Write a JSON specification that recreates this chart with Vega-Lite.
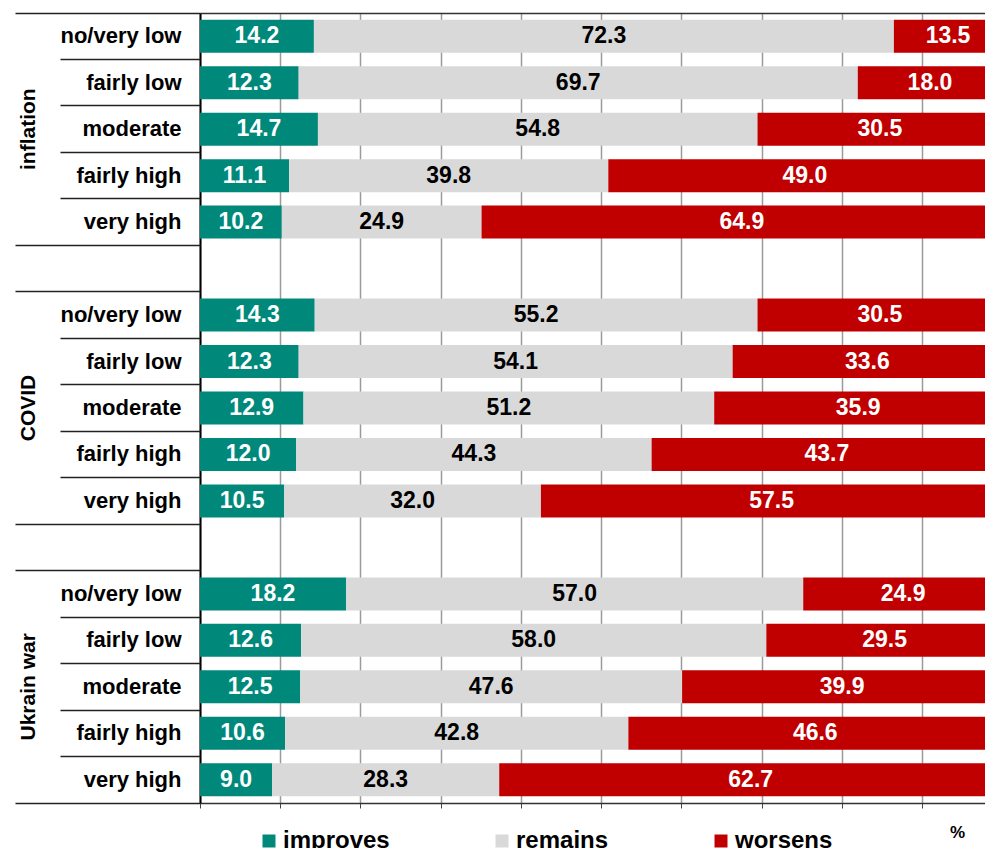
{
  "$schema": "https://vega.github.io/schema/vega-lite/v6.json",
  "width": 785,
  "height": 790,
  "padding": {"left": 200, "top": 13, "right": 0, "bottom": 45},
  "autosize": {"type": "none"},
  "config": {
    "view": {"stroke": null},
    "font": "Liberation Sans",
    "axis": {"labelFont": "Liberation Sans", "titleFont": "Liberation Sans"},
    "legend": {"labelFont": "Liberation Sans"}
  },
  "data": {
    "values": [
      {"row": "inflation|no/very low", "cat": "improves", "ord": 1, "value": 14.2},
      {"row": "inflation|no/very low", "cat": "remains", "ord": 2, "value": 72.3},
      {"row": "inflation|no/very low", "cat": "worsens", "ord": 3, "value": 13.5},
      {"row": "inflation|fairly low", "cat": "improves", "ord": 1, "value": 12.3},
      {"row": "inflation|fairly low", "cat": "remains", "ord": 2, "value": 69.7},
      {"row": "inflation|fairly low", "cat": "worsens", "ord": 3, "value": 18.0},
      {"row": "inflation|moderate", "cat": "improves", "ord": 1, "value": 14.7},
      {"row": "inflation|moderate", "cat": "remains", "ord": 2, "value": 54.8},
      {"row": "inflation|moderate", "cat": "worsens", "ord": 3, "value": 30.5},
      {"row": "inflation|fairly high", "cat": "improves", "ord": 1, "value": 11.1},
      {"row": "inflation|fairly high", "cat": "remains", "ord": 2, "value": 39.8},
      {"row": "inflation|fairly high", "cat": "worsens", "ord": 3, "value": 49.0},
      {"row": "inflation|very high", "cat": "improves", "ord": 1, "value": 10.2},
      {"row": "inflation|very high", "cat": "remains", "ord": 2, "value": 24.9},
      {"row": "inflation|very high", "cat": "worsens", "ord": 3, "value": 64.9},
      {"row": "COVID|no/very low", "cat": "improves", "ord": 1, "value": 14.3},
      {"row": "COVID|no/very low", "cat": "remains", "ord": 2, "value": 55.2},
      {"row": "COVID|no/very low", "cat": "worsens", "ord": 3, "value": 30.5},
      {"row": "COVID|fairly low", "cat": "improves", "ord": 1, "value": 12.3},
      {"row": "COVID|fairly low", "cat": "remains", "ord": 2, "value": 54.1},
      {"row": "COVID|fairly low", "cat": "worsens", "ord": 3, "value": 33.6},
      {"row": "COVID|moderate", "cat": "improves", "ord": 1, "value": 12.9},
      {"row": "COVID|moderate", "cat": "remains", "ord": 2, "value": 51.2},
      {"row": "COVID|moderate", "cat": "worsens", "ord": 3, "value": 35.9},
      {"row": "COVID|fairly high", "cat": "improves", "ord": 1, "value": 12.0},
      {"row": "COVID|fairly high", "cat": "remains", "ord": 2, "value": 44.3},
      {"row": "COVID|fairly high", "cat": "worsens", "ord": 3, "value": 43.7},
      {"row": "COVID|very high", "cat": "improves", "ord": 1, "value": 10.5},
      {"row": "COVID|very high", "cat": "remains", "ord": 2, "value": 32.0},
      {"row": "COVID|very high", "cat": "worsens", "ord": 3, "value": 57.5},
      {"row": "Ukrain war|no/very low", "cat": "improves", "ord": 1, "value": 18.2},
      {"row": "Ukrain war|no/very low", "cat": "remains", "ord": 2, "value": 57.0},
      {"row": "Ukrain war|no/very low", "cat": "worsens", "ord": 3, "value": 24.9},
      {"row": "Ukrain war|fairly low", "cat": "improves", "ord": 1, "value": 12.6},
      {"row": "Ukrain war|fairly low", "cat": "remains", "ord": 2, "value": 58.0},
      {"row": "Ukrain war|fairly low", "cat": "worsens", "ord": 3, "value": 29.5},
      {"row": "Ukrain war|moderate", "cat": "improves", "ord": 1, "value": 12.5},
      {"row": "Ukrain war|moderate", "cat": "remains", "ord": 2, "value": 47.6},
      {"row": "Ukrain war|moderate", "cat": "worsens", "ord": 3, "value": 39.9},
      {"row": "Ukrain war|fairly high", "cat": "improves", "ord": 1, "value": 10.6},
      {"row": "Ukrain war|fairly high", "cat": "remains", "ord": 2, "value": 42.8},
      {"row": "Ukrain war|fairly high", "cat": "worsens", "ord": 3, "value": 46.6},
      {"row": "Ukrain war|very high", "cat": "improves", "ord": 1, "value": 9.0},
      {"row": "Ukrain war|very high", "cat": "remains", "ord": 2, "value": 28.3},
      {"row": "Ukrain war|very high", "cat": "worsens", "ord": 3, "value": 62.7}
    ]
  },
  "transform": [
    {"stack": "value", "groupby": ["row"], "sort": [{"field": "ord"}], "as": ["x0", "x1"]},
    {"calculate": "(datum.x0 + datum.x1) / 2", "as": "mid"}
  ],
  "resolve": {"axis": {"x": "independent", "y": "independent"}},
  "layer": [
    {
      "mark": {"type": "bar", "height": {"band": 0.71}, "clip": true},
      "encoding": {
        "y": {
          "field": "row", "type": "nominal",
          "scale": {"domain": ["inflation|no/very low","inflation|fairly low","inflation|moderate","inflation|fairly high","inflation|very high","gap1","COVID|no/very low","COVID|fairly low","COVID|moderate","COVID|fairly high","COVID|very high","gap2","Ukrain war|no/very low","Ukrain war|fairly low","Ukrain war|moderate","Ukrain war|fairly high","Ukrain war|very high"], "paddingInner": 0, "paddingOuter": 0},
          "axis": {
            "orient": "left", "title": null, "ticks": false, "domain": true, "domainColor": "#000", "domainWidth": 2,
            "labelExpr": "indexof(datum.value, '|') >= 0 ? split(datum.value, '|')[1] : ''",
            "labelFontSize": 22, "labelFontWeight": "bold", "labelColor": "#000", "labelPadding": 19, "labelAlign": "right", "labelBaseline": "middle", "grid": false
          }
        },
        "x": {
          "field": "x0", "type": "quantitative",
          "scale": {"domain": [0, 97.86], "nice": false, "zero": true},
          "axis": {
            "orient": "bottom", "title": "%", "titleX": 757, "titleY": 29, "titleAlign": "center", "titleBaseline": "middle", "titleFontSize": 17, "titleFontWeight": "bold", "titleColor": "#000", "titleAngle": 0,
            "values": [0,10,20,30,40,50,60,70,80,90], "labels": false, "ticks": true, "tickSize": 5, "tickColor": "#444", "tickWidth": 1,
            "domain": true, "domainColor": "#333", "domainWidth": 1.5,
            "grid": true, "gridColor": "#9a9a9a", "gridWidth": 1.5
          }
        },
        "x2": {"field": "x1"},
        "color": {
          "field": "cat", "type": "nominal",
          "scale": {"domain": ["improves", "remains", "worsens"], "range": ["#00897B", "#D9D9D9", "#C00000"]},
          "legend": {
            "orient": "none", "legendX": 57, "legendY": 816, "direction": "horizontal", "title": null,
            "symbolType": "square", "symbolSize": 169, "symbolStrokeWidth": 0, "symbolOpacity": 1,
            "labelFontSize": 24, "labelFontWeight": "bold", "labelColor": "#000", "labelOffset": 2, "columnPadding": 100, "padding": 0
          }
        }
      }
    },
    {
      "transform": [{"filter": "datum.cat === 'improves'"}],
      "mark": {"type": "text", "fontSize": 23, "fontWeight": "bold", "color": "#fff", "baseline": "middle", "align": "center"},
      "encoding": {
        "y": {
          "field": "row", "type": "nominal",
          "scale": {"domain": ["inflation|no/very low","inflation|fairly low","inflation|moderate","inflation|fairly high","inflation|very high","gap1","COVID|no/very low","COVID|fairly low","COVID|moderate","COVID|fairly high","COVID|very high","gap2","Ukrain war|no/very low","Ukrain war|fairly low","Ukrain war|moderate","Ukrain war|fairly high","Ukrain war|very high"], "paddingInner": 0, "paddingOuter": 0},
          "axis": {
            "orient": "left", "title": null, "labels": false, "domain": false, "grid": false, "bandPosition": 0,
            "ticks": true, "tickColor": "#222", "tickWidth": 1.5,
            "tickSize": {"condition": {"test": "indexof(['inflation|no/very low','gap1','COVID|no/very low','gap2','Ukrain war|no/very low'], datum.value) >= 0", "value": 185}, "value": 140}
          }
        },
        "x": {
          "field": "mid", "type": "quantitative",
          "scale": {"domain": [0, 97.86], "nice": false, "zero": true},
          "axis": {"orient": "top", "title": null, "labels": false, "ticks": false, "grid": false, "domain": true, "domainColor": "#333", "domainWidth": 1.5}
        },
        "text": {"field": "value", "type": "quantitative", "format": ".1f"}
      }
    },
    {
      "transform": [{"filter": "datum.cat === 'remains'"}],
      "mark": {"type": "text", "fontSize": 23, "fontWeight": "bold", "color": "#000", "baseline": "middle", "align": "center"},
      "encoding": {
        "y": {
          "field": "row", "type": "nominal",
          "scale": {"domain": ["inflation|no/very low","inflation|fairly low","inflation|moderate","inflation|fairly high","inflation|very high","gap1","COVID|no/very low","COVID|fairly low","COVID|moderate","COVID|fairly high","COVID|very high","gap2","Ukrain war|no/very low","Ukrain war|fairly low","Ukrain war|moderate","Ukrain war|fairly high","Ukrain war|very high"], "paddingInner": 0, "paddingOuter": 0},
          "axis": {
            "orient": "left", "title": null, "ticks": false, "domain": false, "grid": false,
            "values": ["inflation|moderate", "COVID|moderate", "Ukrain war|moderate"],
            "labelExpr": "split(datum.value, '|')[0]",
            "labelAngle": 270, "labelAlign": "center", "labelBaseline": "middle",
            "labelFontSize": 21, "labelFontWeight": "bold", "labelColor": "#000", "labelPadding": 172
          }
        },
        "x": {
          "field": "mid", "type": "quantitative",
          "scale": {"domain": [0, 97.86], "nice": false, "zero": true},
          "axis": null
        },
        "text": {"field": "value", "type": "quantitative", "format": ".1f"}
      }
    },
    {
      "transform": [{"filter": "datum.cat === 'worsens'"}],
      "mark": {"type": "text", "fontSize": 23, "fontWeight": "bold", "color": "#fff", "baseline": "middle", "align": "center"},
      "encoding": {
        "y": {
          "field": "row", "type": "nominal",
          "scale": {"domain": ["inflation|no/very low","inflation|fairly low","inflation|moderate","inflation|fairly high","inflation|very high","gap1","COVID|no/very low","COVID|fairly low","COVID|moderate","COVID|fairly high","COVID|very high","gap2","Ukrain war|no/very low","Ukrain war|fairly low","Ukrain war|moderate","Ukrain war|fairly high","Ukrain war|very high"], "paddingInner": 0, "paddingOuter": 0},
          "axis": {
            "orient": "left", "title": null, "labels": false, "domain": false, "grid": false, "bandPosition": 1,
            "values": ["Ukrain war|very high"],
            "ticks": true, "tickColor": "#222", "tickWidth": 1.5, "tickSize": 185
          }
        },
        "x": {
          "field": "mid", "type": "quantitative",
          "scale": {"domain": [0, 97.86], "nice": false, "zero": true},
          "axis": null
        },
        "text": {"field": "value", "type": "quantitative", "format": ".1f"}
      }
    }
  ]
}
